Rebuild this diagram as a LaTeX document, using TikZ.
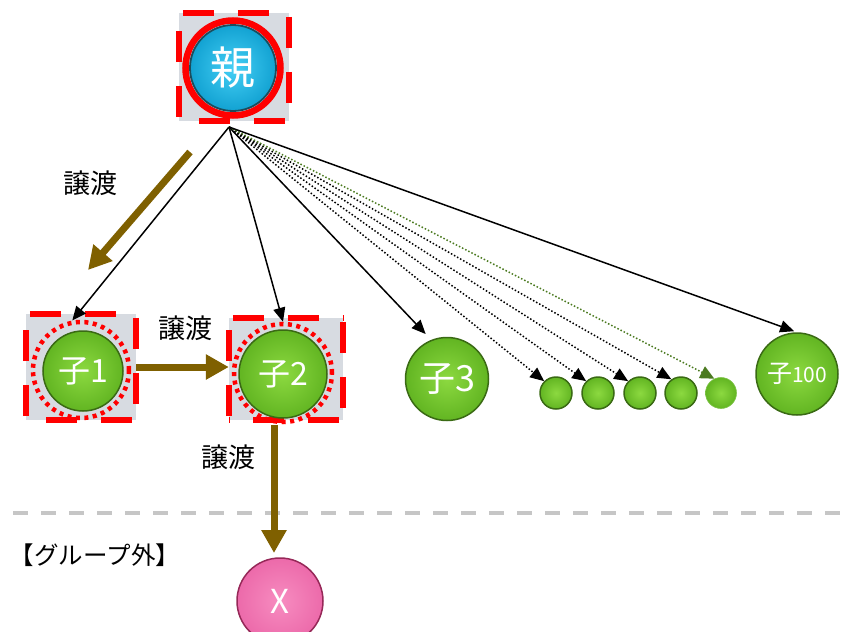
\documentclass[tikz,border=0pt]{standalone}
\usepackage{fontspec}
\setmainfont{Noto Sans CJK JP}
\usetikzlibrary{arrows.meta}
\definecolor{brownarr}{HTML}{7F6000}
\definecolor{boxgray}{HTML}{D7DBE1}
\definecolor{redd}{HTML}{FF0000}
\definecolor{gin}{HTML}{8CD940}
\definecolor{gout}{HTML}{62B522}
\definecolor{gline}{HTML}{3A6A14}
\definecolor{bin}{HTML}{45CFF5}
\definecolor{bout}{HTML}{12A2D2}
\definecolor{bline}{HTML}{1C4C5C}
\definecolor{pin}{HTML}{F78CC0}
\definecolor{pout}{HTML}{EC6AAA}
\definecolor{pline}{HTML}{962858}
\definecolor{dgreen}{HTML}{4B7A20}
\definecolor{sepgray}{HTML}{C6C6C6}
\tikzset{
  selbox/.style={rectangle, fill=boxgray, inner sep=0pt},
  reddash/.style={draw=redd, line width=6.5pt, dash pattern=on 31pt off 24pt, dash phase=51pt},
  dotring/.style={circle, draw=redd, line width=4.5pt, dash pattern=on 4pt off 4.5pt, inner sep=0pt},
  gball/.style={circle, inner sep=0pt, inner color=gin, outer color=gout, draw=gline, line width=1.5pt, text=white},
  bball/.style={circle, inner sep=0pt, inner color=bin, outer color=bout, draw=bline, line width=1.8pt, text=white},
  pball/.style={circle, inner sep=0pt, inner color=pin, outer color=pout, draw=pline, line width=1.5pt, text=white},
  conn/.style={draw=black, line width=1.5pt, -{Triangle[length=14pt,width=12pt]}},
  dconn/.style={conn, dotted},
  gconn/.style={draw=dgreen, line width=1.5pt, dotted, -{Triangle[length=14pt,width=13pt]}},
  transfer/.style={draw=brownarr, line width=7pt, -{Triangle[length=23pt,width=24pt]}},
  lbl/.style={font=\fontsize{27}{30}\selectfont, text=black, inner sep=0pt},
}
\newcommand\selborder[1]{%
  \draw[reddash] (#1.north west) -- (#1.north east);
  \draw[reddash] (#1.north east) -- (#1.south east);
  \draw[reddash] (#1.south east) -- (#1.south west);
  \draw[reddash] (#1.south west) -- (#1.north west);
}
\begin{document}
\begin{tikzpicture}[x=1pt,y=-1pt]
\useasboundingbox (0,0) rectangle (841,632);
% separator
\draw[sepgray, line width=4pt, dash pattern=on 15pt off 13pt] (13,513) -- (841,513);
% parent
\node[selbox, minimum width=110pt, minimum height=108pt] (pb) at (234,67) {};
\selborder{pb}
\node[circle, draw=redd, line width=6.5pt, minimum size=95pt, inner sep=0pt] (pr) at (233,68) {};
\node[bball, minimum size=86pt, font=\fontsize{45}{45}\selectfont] (p) at (233,68) {親};
% child 1
\node[selbox, minimum width=110pt, minimum height=106pt] (c1b) at (81,367) {};
\selborder{c1b}
\node[dotring, minimum size=96pt] (c1r) at (81,370) {};
\node[gball, minimum size=80pt, font=\fontsize{32}{32}\selectfont] (c1) at (83,371) {子1};
% child 2
\node[selbox, minimum width=114pt, minimum height=102pt] (c2b) at (286,369) {};
\selborder{c2b}
\node[dotring, minimum size=98pt] (c2r) at (283,373) {};
\node[gball, minimum size=88pt, font=\fontsize{32}{32}\selectfont] (c2) at (283,374) {子2};
% child 3
\node[gball, minimum size=83pt, font=\fontsize{36}{36}\selectfont] (c3) at (447,379) {子3};
% small ones
\node[gball, minimum size=32pt] (s1) at (556,393) {};
\node[gball, minimum size=32pt] (s2) at (598,393) {};
\node[gball, minimum size=32pt] (s3) at (640,393) {};
\node[gball, minimum size=32pt] (s4) at (681,393) {};
\node[gball, minimum size=31pt, draw=gout!80!white, line width=0.6pt] (s5) at (721,393) {};
% child 100
\node[gball, minimum size=82pt] (c100) at (797,374) {{\fontsize{25}{25}\selectfont 子}{\fontsize{21}{21}\selectfont 100}};
% X
\node[pball, minimum size=86pt, font=\fontsize{33}{33}\selectfont] (x) at (280,601) {X};
% labels
\node[lbl] (l1) at (90,183) {譲渡};
\node[lbl] (l2) at (185,328) {譲渡};
\node[lbl] (l3) at (228,457) {譲渡};
\node[font=\fontsize{24.5}{26}\selectfont, inner sep=0pt] (grp) at (95,555) {【グループ外】};
% connectors from parent
\coordinate (o) at (229,127);
\draw[conn] (o) -- (c1r.100);
\draw[conn] (o) -- (c2r.north);
\draw[conn, shorten >=8pt] (o) -- (c3.112);
\draw[dconn] (o) -- (s1.135);
\draw[dconn] (o) -- (s2.135);
\draw[dconn] (o) -- (s3.135);
\draw[dconn] (o) -- (s4.125);
\draw[gconn] (o) -- (s5.115);
\draw[conn, shorten >=3pt] (o) -- (c100.north);
% transfers
\coordinate (b1s) at (190,152);
\coordinate (b1e) at (88,270);
\draw[transfer] (b1s) -- (b1e);
\draw[transfer] (c1b.east) -- (c2b.west |- c1b.east);
\coordinate (b3s) at (274,425);
\coordinate (b3e) at (274,553);
\draw[transfer] (b3s) -- (b3e);
\end{tikzpicture}
\end{document}
